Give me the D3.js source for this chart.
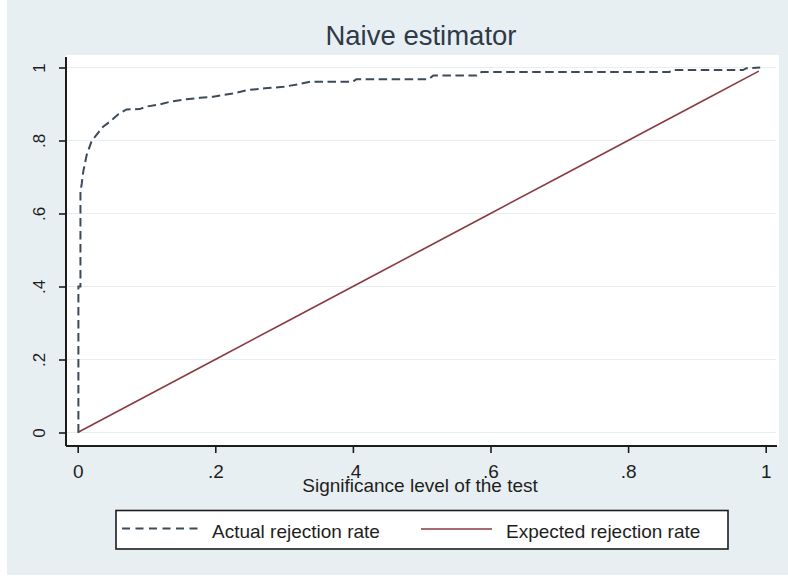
<!DOCTYPE html>
<html>
<head>
<meta charset="utf-8">
<script src="https://cdn.jsdelivr.net/npm/d3@7"></script>
<style>
  html, body { margin: 0; padding: 0; background: #ffffff; }
  svg { display: block; }
  text { font-family: "Liberation Sans", Arial, sans-serif; }
</style>
</head>
<body>
<svg id="chart" width="788" height="576"></svg>
<script>
// Significance level of the test (x) and rejection rates (y)
const actualX = [0.001, 0.001, 0.004, 0.004, 0.006, 0.008, 0.013, 0.020, 0.025, 0.037,
                 0.047, 0.059, 0.071, 0.090, 0.100, 0.120, 0.134, 0.158, 0.178, 0.197,
                 0.226, 0.246, 0.272, 0.299, 0.320, 0.338, 0.400, 0.405, 0.510, 0.517,
                 0.580, 0.587, 0.860, 0.865, 0.967, 0.972, 0.992];
const actualY = [0.000, 0.400, 0.400, 0.660, 0.683, 0.714, 0.760, 0.797, 0.810, 0.838,
                 0.852, 0.872, 0.885, 0.886, 0.893, 0.899, 0.906, 0.913, 0.917, 0.920,
                 0.929, 0.938, 0.943, 0.947, 0.954, 0.961, 0.961, 0.968, 0.968, 0.978,
                 0.978, 0.988, 0.988, 0.993, 0.993, 0.998, 1.000];

const expectedX = [0, 0.1, 0.2, 0.3, 0.4, 0.5, 0.6, 0.7, 0.8, 0.9, 0.99];
const expectedY = [0, 0.1, 0.2, 0.3, 0.4, 0.5, 0.6, 0.7, 0.8, 0.9, 0.99];

const xTicks = [0, 0.2, 0.4, 0.6, 0.8, 1];
const xTickLabels = ["0", ".2", ".4", ".6", ".8", "1"];
const yTicks = [0, 0.2, 0.4, 0.6, 0.8, 1];
const yTickLabels = ["0", ".2", ".4", ".6", ".8", "1"];

const titleText = "Naive estimator";
const xTitle = "Significance level of the test";
const seriesNames = ["Actual rejection rate", "Expected rejection rate"];

const svg = d3.select("#chart");

// graph region and plot region
const plot = { left: 66, right: 779, top: 55, bottom: 446 };

svg.append("rect").attr("x", 7).attr("y", 0).attr("width", 781).attr("height", 575)
  .attr("fill", "#e8eff2");
svg.append("rect").attr("x", plot.left).attr("y", plot.top)
  .attr("width", plot.right - plot.left).attr("height", plot.bottom - plot.top)
  .attr("fill", "#ffffff");

const x = d3.scaleLinear().domain([0, 1]).range([77.7, 765.7]);
const y = d3.scaleLinear().domain([0, 1]).range([432.5, 67.5]);

// horizontal grid lines
svg.append("g").selectAll("line").data(yTicks).join("line")
  .attr("x1", plot.left + 1).attr("x2", plot.right - 3)
  .attr("y1", d => y(d)).attr("y2", d => y(d))
  .attr("stroke", "#e6eef1").attr("stroke-width", 1.2);

// x axis
const xAxis = d3.axisBottom(x).tickValues(xTicks)
  .tickFormat((d, i) => xTickLabels[i]).tickSize(7).tickSizeOuter(0);
const gx = svg.append("g").attr("transform", `translate(0,${plot.bottom})`).call(xAxis);
gx.select(".domain").attr("d", `M${plot.left},0H${plot.right - 2}`)
  .attr("stroke", "#1c1c1c").attr("stroke-width", 2);
gx.selectAll(".tick line").attr("stroke", "#1c1c1c").attr("stroke-width", 1.6);
gx.selectAll(".tick text").attr("y", 31.5).attr("dy", 0)
  .attr("font-size", 19).attr("fill", "#1e1e1e")
  .attr("font-family", "Liberation Sans, Arial, sans-serif");

// y axis
const yAxis = d3.axisLeft(y).tickValues(yTicks)
  .tickFormat((d, i) => yTickLabels[i]).tickSize(7).tickSizeOuter(0);
const gy = svg.append("g").attr("transform", `translate(${plot.left},0)`).call(yAxis);
gy.select(".domain").attr("d", `M0,${plot.top + 2}V${plot.bottom}`)
  .attr("stroke", "#1c1c1c").attr("stroke-width", 2);
gy.selectAll(".tick line").attr("stroke", "#1c1c1c").attr("stroke-width", 1.6);
gy.selectAll(".tick text")
  .attr("x", null).attr("dy", null)
  .attr("transform", "translate(-21,0) rotate(-90)")
  .attr("text-anchor", "middle")
  .attr("font-size", 17).attr("fill", "#1e1e1e")
  .attr("font-family", "Liberation Sans, Arial, sans-serif");

// series
const actual = actualX.map((v, i) => [v, actualY[i]]);
const expected = expectedX.map((v, i) => [v, expectedY[i]]);

svg.append("path").datum(expected)
  .attr("d", d3.line().x(d => x(d[0])).y(d => y(d[1])))
  .attr("fill", "none").attr("stroke", "#8a3b43").attr("stroke-width", 1.6);

svg.append("path").datum(actual)
  .attr("d", d3.line().x(d => x(d[0])).y(d => y(d[1])))
  .attr("fill", "none").attr("stroke", "#3d4a58").attr("stroke-width", 2)
  .attr("stroke-dasharray", "8.5,4.5");

// title and axis title
svg.append("text").attr("x", 421).attr("y", 45).attr("text-anchor", "middle")
  .attr("font-size", 27.5).attr("fill", "#2f3a48").text(titleText);

svg.append("text").attr("x", 420).attr("y", 492).attr("text-anchor", "middle")
  .attr("font-size", 19).attr("fill", "#1e1e1e").text(xTitle);

// legend
const lg = svg.append("g");
lg.append("rect").attr("x", 116).attr("y", 510.5).attr("width", 612).attr("height", 38.5)
  .attr("fill", "#ffffff").attr("stroke", "#1c1c1c").attr("stroke-width", 1.6);
lg.append("line").attr("x1", 122).attr("x2", 200).attr("y1", 528.5).attr("y2", 528.5)
  .attr("stroke", "#3d4a58").attr("stroke-width", 2).attr("stroke-dasharray", "8,5.5");
lg.append("text").attr("x", 212).attr("y", 537.5).attr("font-size", 19)
  .attr("fill", "#1e1e1e").text(seriesNames[0]);
lg.append("line").attr("x1", 421).attr("x2", 492).attr("y1", 529).attr("y2", 529)
  .attr("stroke", "#8a3b43").attr("stroke-width", 1.6);
lg.append("text").attr("x", 506).attr("y", 537.5).attr("font-size", 19)
  .attr("fill", "#1e1e1e").text(seriesNames[1]);
</script>
</body>
</html>
